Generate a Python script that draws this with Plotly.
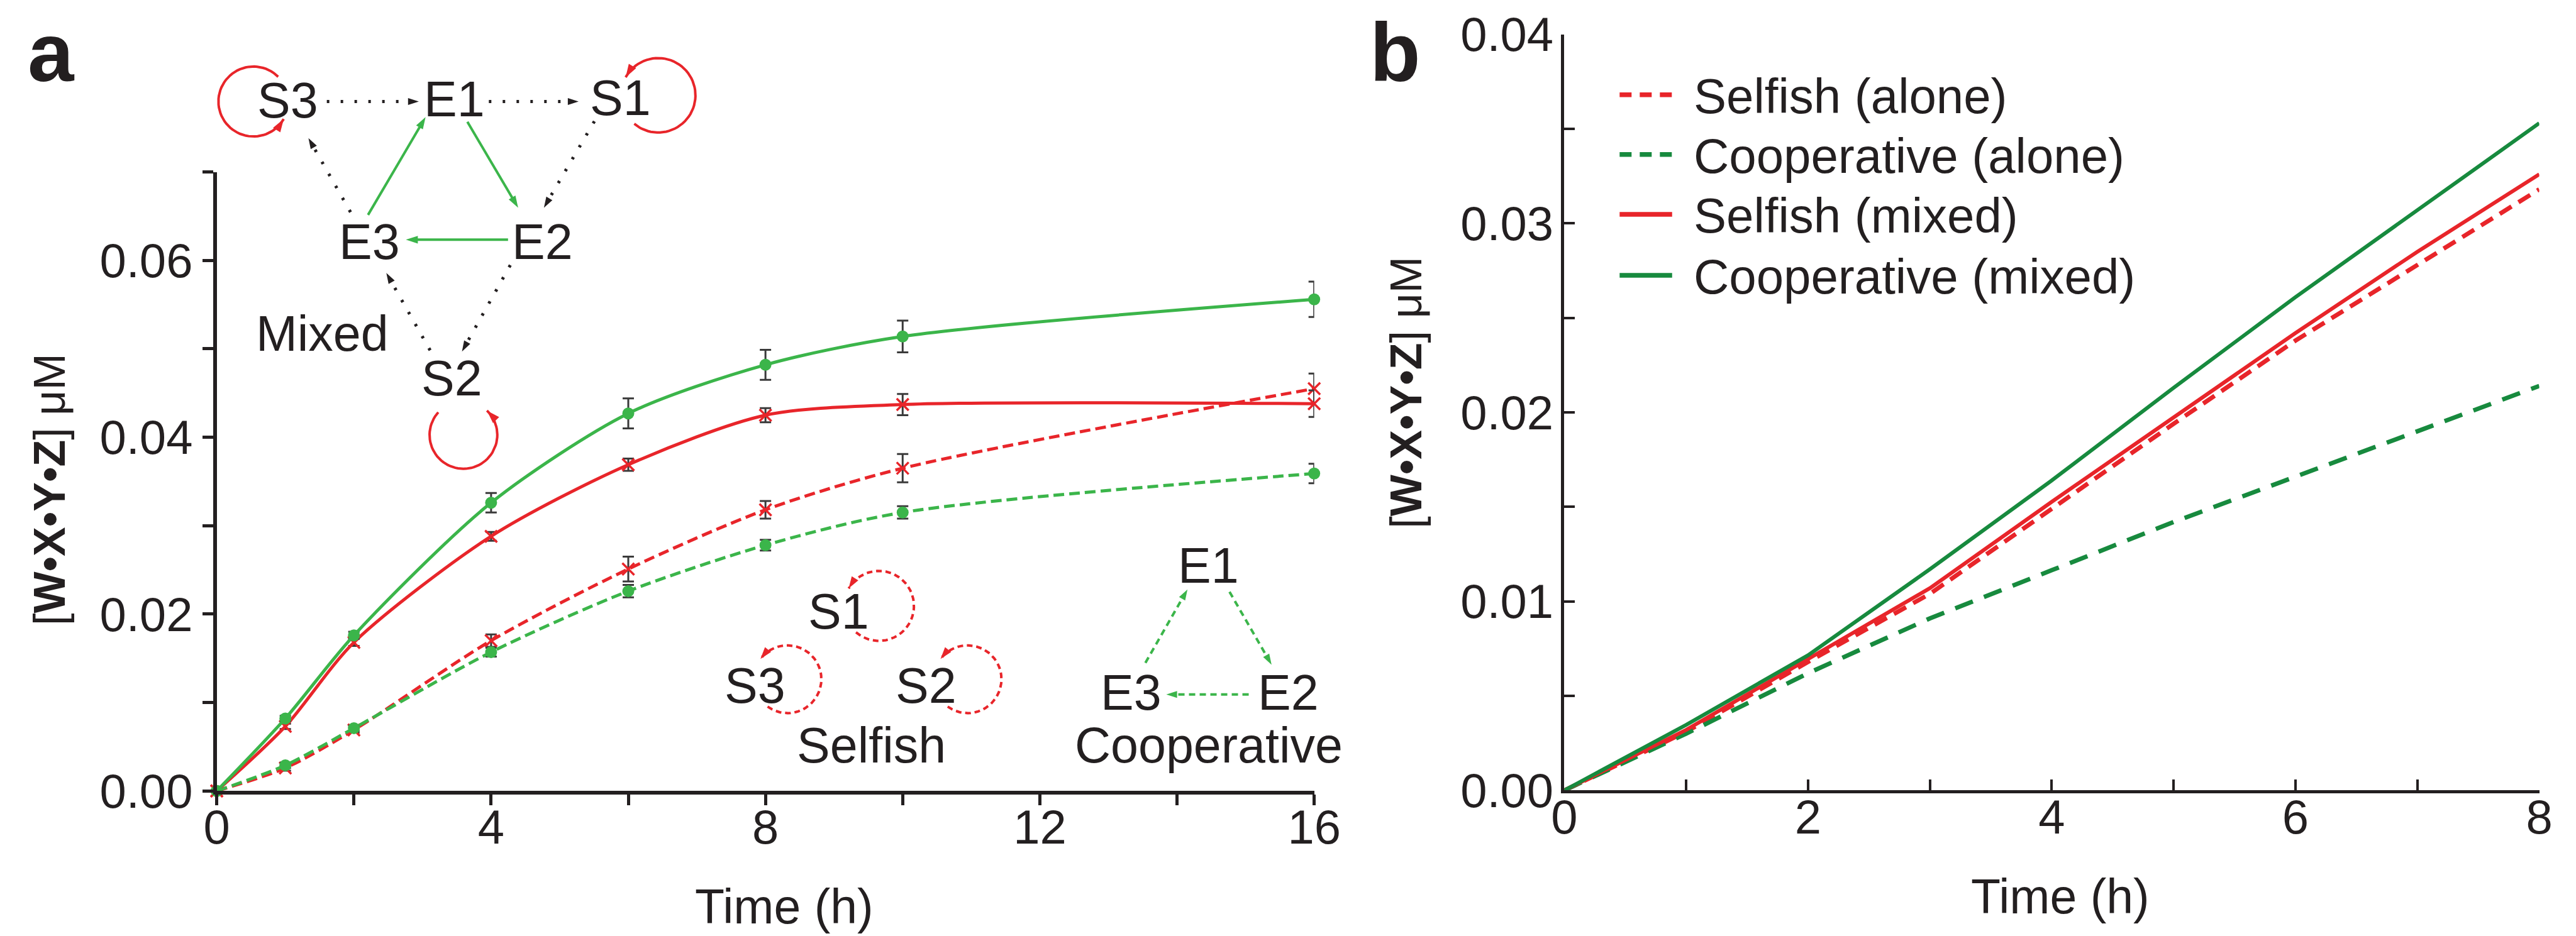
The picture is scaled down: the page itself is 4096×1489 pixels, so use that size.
import numpy as np
import plotly.graph_objects as go

# ---------------- data ----------------
# Panel a: measured time courses (h) with error bars
time_a = [0, 1, 2, 4, 6, 8, 10, 16]
selfish_alone_a = [0, 0.0026, 0.0069, 0.0170, 0.0251, 0.0318, 0.0365, 0.0455]
selfish_alone_err = [0, 0.0003, 0.0003, 0.0007, 0.0014, 0.0010, 0.0016, 0.0017]
coop_alone_a = [0, 0.0029, 0.0071, 0.0157, 0.0226, 0.0278, 0.0315, 0.0359]
coop_alone_err = [0, 0.0003, 0.0003, 0.0005, 0.0007, 0.0006, 0.0007, 0.0011]
selfish_mixed_a = [0, 0.0073, 0.0168, 0.0288, 0.0369, 0.0425, 0.0437, 0.0438]
selfish_mixed_err = [0, 0.0003, 0.0004, 0.0005, 0.0007, 0.0008, 0.0012, 0.0015]
coop_mixed_a = [0, 0.0082, 0.0176, 0.0326, 0.0427, 0.0482, 0.0514, 0.0556]
coop_mixed_err = [0, 0.0003, 0.0004, 0.0011, 0.0017, 0.0017, 0.0018, 0.0020]

# Panel b: simulated time courses
time_b = [0, 1, 2, 3, 4, 5, 6, 7, 8]
selfish_alone_b = [0, 0.0031, 0.0068, 0.0104, 0.0149, 0.0194, 0.0238, 0.0278, 0.0318]
coop_alone_b = [0, 0.0030, 0.0062, 0.0091, 0.01165, 0.0142, 0.0166, 0.0190, 0.0214]
selfish_mixed_b = [0, 0.0032, 0.00695, 0.0107, 0.01527, 0.01975, 0.0242, 0.0285, 0.0326]
coop_mixed_b = [0, 0.00347, 0.00715, 0.0117, 0.0164, 0.0213, 0.0261, 0.0307, 0.0353]

legend_names = ["Selfish (alone)", "Cooperative (alone)", "Selfish (mixed)", "Cooperative (mixed)"]

# tick labels
xa_ticks = [0, 2, 4, 6, 8, 10, 12, 14, 16]
xa_text = ["0", "", "4", "", "8", "", "12", "", "16"]
ya_ticks = [0, 0.01, 0.02, 0.03, 0.04, 0.05, 0.06, 0.07]
ya_text = ["0.00", "", "0.02", "", "0.04", "", "0.06", ""]
xb_ticks = [0, 1, 2, 3, 4, 5, 6, 7, 8]
xb_text = ["0", "", "2", "", "4", "", "6", "", "8"]
yb_ticks = [0, 0.005, 0.01, 0.015, 0.02, 0.025, 0.03, 0.035, 0.04]
yb_text = ["0.00", "", "0.01", "", "0.02", "", "0.03", "", "0.04"]

# ---------------- style ----------------
RW, RH = 4563.0, 1659.0          # reference pixel frame
W, H = 4096, 1489
S = W / RW
RED = "#E8252A"
GREEN_A = "#3BB54A"
GREEN_B = "#178A3E"
INK = "#231F20"
ERR = "#3A3A3A"
FONT = "Liberation Sans, Arial, Helvetica, sans-serif"
TICK_FS = 76
LAB_FS = 79


def px(x):
    return x / RW


def py(y):
    return 1 - y / RH


fig = go.Figure()

# ---------------- panel a ----------------
def err(arr):
    return dict(type="data", array=arr, color=ERR, thickness=3, width=9)

LW_A = 5
fig.add_trace(go.Scatter(x=time_a, y=selfish_alone_a, mode="lines+markers", name=legend_names[0],
                         line=dict(color=RED, width=LW_A, dash="17px,8px", shape="spline", smoothing=0.8),
                         marker=dict(symbol="x-thin", size=19, line=dict(width=3.5, color=RED), color=RED),
                         error_y=err(selfish_alone_err), xaxis="x", yaxis="y", showlegend=False, cliponaxis=False))
fig.add_trace(go.Scatter(x=time_a, y=coop_alone_a, mode="lines+markers", name=legend_names[1],
                         line=dict(color=GREEN_A, width=LW_A, dash="17px,8px", shape="spline", smoothing=0.8),
                         marker=dict(symbol="circle", size=19, color=GREEN_A),
                         error_y=err(coop_alone_err), xaxis="x", yaxis="y", showlegend=False, cliponaxis=False))
fig.add_trace(go.Scatter(x=time_a, y=selfish_mixed_a, mode="lines+markers", name=legend_names[2],
                         line=dict(color=RED, width=LW_A, shape="spline", smoothing=0.8),
                         marker=dict(symbol="x-thin", size=19, line=dict(width=3.5, color=RED), color=RED),
                         error_y=err(selfish_mixed_err), xaxis="x", yaxis="y", showlegend=False, cliponaxis=False))
fig.add_trace(go.Scatter(x=time_a, y=coop_mixed_a, mode="lines+markers", name=legend_names[3],
                         line=dict(color=GREEN_A, width=LW_A, shape="spline", smoothing=0.8),
                         marker=dict(symbol="circle", size=19, color=GREEN_A),
                         error_y=err(coop_mixed_err), xaxis="x", yaxis="y", showlegend=False, cliponaxis=False))

# ---------------- panel b ----------------
b_styles = [
    (selfish_alone_b, RED, 7, "22px,13px"),
    (coop_alone_b, GREEN_B, 7, "30px,19px"),
    (selfish_mixed_b, RED, 6, None),
    (coop_mixed_b, GREEN_B, 6, None),
]
for (yv, col, lw, dash), name in zip(b_styles, legend_names):
    fig.add_trace(go.Scatter(x=time_b, y=yv, mode="lines", name=name,
                             line=dict(color=col, width=lw, dash=dash), xaxis="x2", yaxis="y2", showlegend=False))

# ---------------- reaction-network diagrams (overlay, reference pixel frame) ----------------
def arrow(p0, p1, color, dash=None, width=4, head=20):
    (x0, y0), (x1, y1) = p0, p1
    d = np.hypot(x1 - x0, y1 - y0)
    ux, uy = (x1 - x0) / d, (y1 - y0) / d
    back = 0.45 * head / S
    xm, ym = x1 - ux * back, y1 - uy * back
    fig.add_trace(go.Scatter(x=[x0, xm], y=[y0, ym], mode="lines+markers", xaxis="x3", yaxis="y3",
                             line=dict(color=color, width=width, dash=dash),
                             marker=dict(symbol=["circle", "arrow"], size=[1, head], opacity=[0, 1], color=color,
                                         angleref="previous", line=dict(width=0)),
                             showlegend=False, hoverinfo="skip"))


def loop(c, r, a0, a1, color, dash=None, width=4, head=22):
    th = np.radians(np.linspace(a0, a1, 60))
    xs = c[0] + r * np.cos(th)
    ys = c[1] - r * np.sin(th)
    n = len(xs)
    fig.add_trace(go.Scatter(x=xs, y=ys, mode="lines+markers", xaxis="x3", yaxis="y3",
                             line=dict(color=color, width=width, dash=dash),
                             marker=dict(symbol=["circle"] * (n - 1) + ["arrow"], size=[1] * (n - 1) + [head],
                                         opacity=[0] * (n - 1) + [1], color=color, angleref="previous", line=dict(width=0)),
                             showlegend=False, hoverinfo="skip"))

DOT = "4px,18px"
# mixed network (top-left)
arrow((570, 171), (742, 171), INK, DOT, 5, 18)
arrow((857, 171), (1025, 171), INK, DOT, 5, 18)
arrow((1044, 206), (950, 367), INK, DOT, 5, 18)
arrow((895, 461), (805, 622), INK, DOT, 5, 18)
arrow((753, 612), (671, 467), INK, DOT, 5, 18)
arrow((612, 367), (533, 228), INK, DOT, 5, 18)
arrow((643, 372), (750, 190), GREEN_A, None, 4, 20)
arrow((819, 207), (914, 368), GREEN_A, None, 4, 20)
arrow((891, 416), (700, 416), GREEN_A, None, 4, 20)
loop((440, 171), 62, 45, 330, RED, None, 4, 22)
loop((1157, 160), 66, 230, 511, RED, None, 4, 22)
loop((812, 762), 60, 138, 406, RED, None, 4, 22)
# selfish loops
loop((1548, 1065), 62, 229, 510, RED, "9px,6px", 4, 20)
loop((1386, 1195), 60, 234, 503, RED, "9px,6px", 4, 20)
loop((1705, 1195), 60, 234, 503, RED, "9px,6px", 4, 20)
# cooperative network
arrow((2020, 1166), (2099, 1028), GREEN_A, "10px,7px", 4, 18)
arrow((2169, 1040), (2248, 1177), GREEN_A, "10px,7px", 4, 18)
arrow((2203, 1222), (2048, 1222), GREEN_A, "10px,7px", 4, 18)

annotations = []


def label(x, y, text, size=LAB_FS, **kw):
    d = dict(x=x, y=y, xref="x3", yref="y3", text=text, showarrow=False,
             font=dict(size=size, color=INK, family=FONT), xanchor="center", yanchor="middle")
    d.update(kw)
    annotations.append(d)

for t, (x, y) in {"S3": (501, 169), "E1": (796, 167), "S1": (1090, 164), "E3": (646, 419),
                  "E2": (952, 419), "S2": (792, 661), "Mixed": (562, 582)}.items():
    label(x, y, t)
for t, (x, y) in {"S1": (1477, 1075), "S3": (1328, 1206), "S2": (1631, 1206), "Selfish": (1535, 1312),
                  "E1": (2132, 993), "E3": (1995, 1218), "E2": (2273, 1218), "Cooperative": (2132, 1312)}.items():
    label(x, y, t)

# legend of panel b (drawn by hand to match sample length and row spacing)
leg_rows = [161, 267, 373, 481]
leg_dash = ["19px,13px", "19px,13px", None, None]
leg_col = [RED, GREEN_B, RED, GREEN_B]
for name, yrow, col, dash in zip(legend_names, leg_rows, leg_col, leg_dash):
    fig.add_trace(go.Scatter(x=[2860, 2953], y=[yrow - 2, yrow - 2], mode="lines", xaxis="x3", yaxis="y3",
                             line=dict(color=col, width=7.5, dash=dash), showlegend=False, hoverinfo="skip"))
    label(2989, yrow, name, size=78, xanchor="left")

# panel letters and axis titles
label(82, 0, "<b>a</b>", size=132, yanchor="top")
label(2462, 0, "<b>b</b>", size=132, yanchor="top")
label(79, 858, "[<b>W•X•Y•Z</b>] μM", size=70, textangle=-90)
label(2482, 686, "[<b>W•X•Y•Z</b>] μM", size=70, textangle=-90)
label(1380, 1598, "Time (h)", size=77)
label(3641, 1580, "Time (h)", size=77)

axis_common = dict(showgrid=False, zeroline=False, showline=True, linecolor=INK, tickcolor=INK, automargin=False,
                   tickfont=dict(size=TICK_FS, color=INK, family=FONT), fixedrange=True)

fig.update_layout(
    template="none",
    width=W, height=H, margin=dict(l=0, r=0, t=0, b=0, pad=0),
    paper_bgcolor="white", plot_bgcolor="rgba(0,0,0,0)",
    font=dict(family=FONT, color=INK),
    xaxis=dict(domain=[px(375), px(2319)], range=[0, 16], anchor="y", tickvals=xa_ticks, ticktext=xa_text,
               ticks="outside", ticklen=17, tickwidth=4.5, linewidth=6, ticklabelstandoff=-30, **axis_common),
    yaxis=dict(domain=[py(1393), py(296)], range=[0, 0.07], anchor="x", tickvals=ya_ticks, ticktext=ya_text,
               ticks="outside", ticklen=17, tickwidth=4.5, linewidth=6, **axis_common),
    xaxis2=dict(domain=[px(2762), px(4489)], range=[0, 8], anchor="y2", tickvals=xb_ticks, ticktext=xb_text,
                ticks="inside", ticklen=17, tickwidth=4, linewidth=5, ticklabelstandoff=-28, **axis_common),
    yaxis2=dict(domain=[py(1392), py(52)], range=[0, 0.04], anchor="x2", tickvals=yb_ticks, ticktext=yb_text,
                ticks="inside", ticklen=17, tickwidth=4, linewidth=5, ticklabelstandoff=-3, **axis_common),
    xaxis3=dict(domain=[0, 1], range=[0, RW], anchor="y3", visible=False, fixedrange=True, automargin=False),
    yaxis3=dict(domain=[0, 1], range=[RH, 0], anchor="x3", visible=False, fixedrange=True, automargin=False),
    annotations=annotations,
    showlegend=False,
)

fig.write_html("out.html")
